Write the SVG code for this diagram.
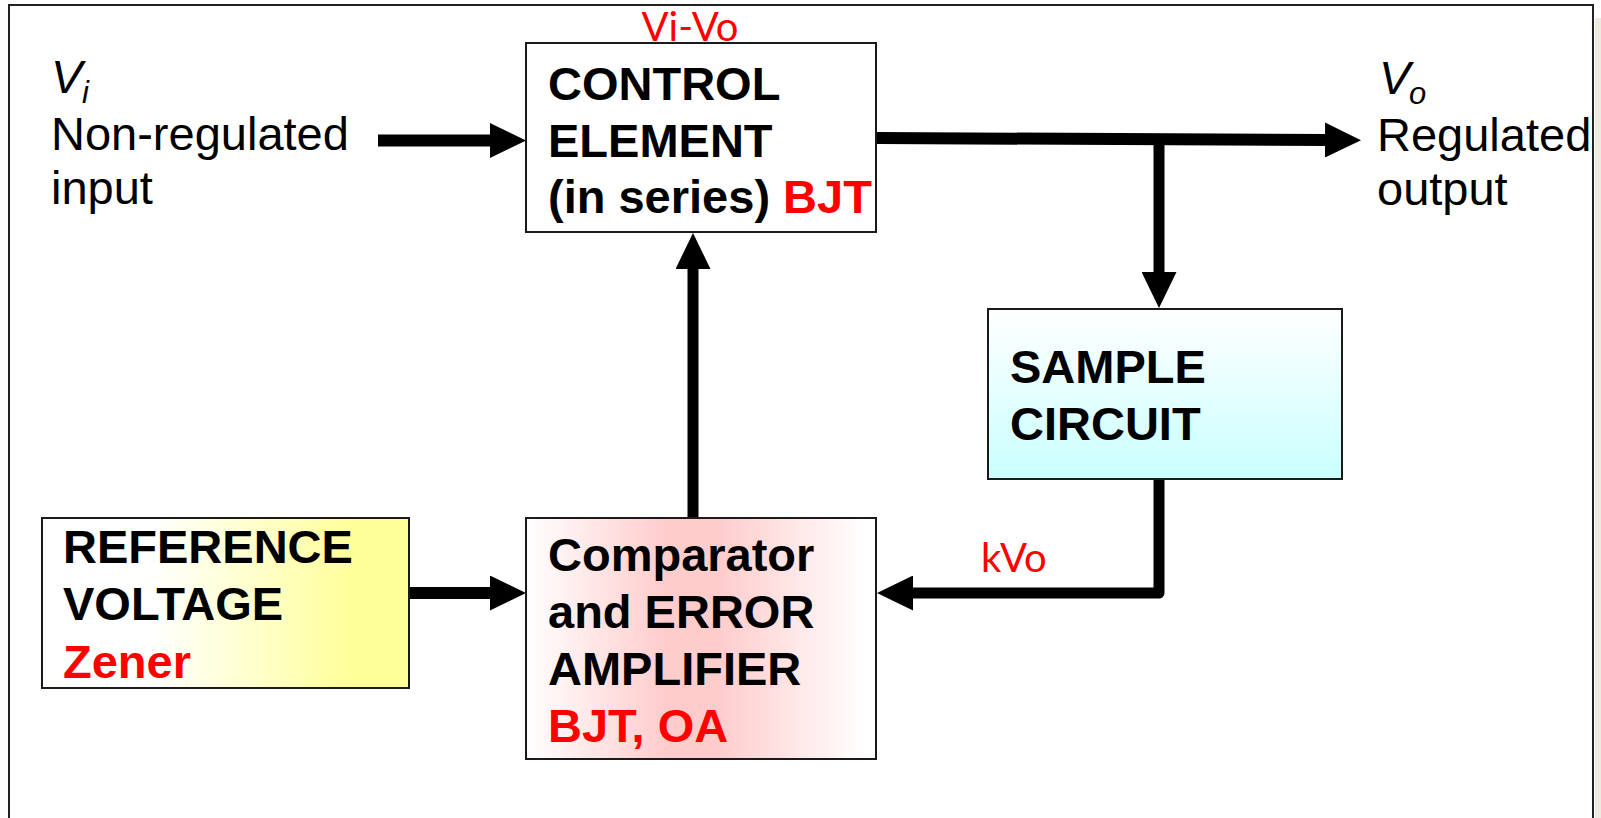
<svg xmlns="http://www.w3.org/2000/svg" width="1601" height="818" viewBox="0 0 1601 818">
<style>
.box{stroke:#1a1a1a;stroke-width:2}
.b{font-family:"Liberation Sans",Arial,sans-serif;font-weight:bold;font-size:47px;fill:#000}
.r{fill:#FF0000}
.n{font-family:"Liberation Sans",Arial,sans-serif;font-size:47px;fill:#000}
.it{font-style:italic}
.sub{font-size:31px}
.cal{font-family:Lato,"Open Sans",sans-serif;font-size:40px;fill:#FF0000}
.wire{fill:none;stroke:#000;stroke-width:12;stroke-linejoin:round}
</style>
<defs>
<marker id="ah" markerUnits="userSpaceOnUse" viewBox="0 0 36 35" refX="1" refY="17.5" markerWidth="36" markerHeight="35" orient="auto">
<path d="M0,0 L36,17.5 L0,35 Z" fill="#000"/>
</marker>
<linearGradient id="gy" x1="0" y1="0" x2="1" y2="0">
<stop offset="0" stop-color="#FFFFFF"/>
<stop offset="0.3" stop-color="#FFFFFF"/>
<stop offset="0.85" stop-color="#FFFF99"/>
<stop offset="1" stop-color="#FFFF99"/>
</linearGradient>
<linearGradient id="gp" x1="0" y1="0" x2="1" y2="0">
<stop offset="0" stop-color="#FFFFFF"/>
<stop offset="0.4" stop-color="#FFCCCC"/>
<stop offset="0.55" stop-color="#FFCCCC"/>
<stop offset="0.97" stop-color="#FFFFFF"/>
</linearGradient>
<linearGradient id="gc" x1="0" y1="0" x2="0" y2="1">
<stop offset="0" stop-color="#FFFFFF"/>
<stop offset="0.95" stop-color="#CCFFFF"/>
</linearGradient>
</defs>
<rect x="0" y="0" width="1601" height="818" fill="#FFFFFF"/>
<rect x="1595" y="18" width="6" height="800" fill="#EDEBE0"/>
<rect x="9" y="5" width="1584" height="900" fill="none" stroke="#222" stroke-width="2"/>

<g id="connectors">
<path class="wire" d="M378,140.5 H491" marker-end="url(#ah)"/>
<path class="wire" d="M877,138 L1326,140" marker-end="url(#ah)"/>
<path class="wire" d="M1159,139 V273" marker-end="url(#ah)" style="stroke-width:11"/>
<path class="wire" d="M1159,479 V593 H912" marker-end="url(#ah)" style="stroke-width:11"/>
<path class="wire" d="M409,593 H491" marker-end="url(#ah)"/>
<path class="wire" d="M693,518 V268" marker-end="url(#ah)" style="stroke-width:11"/>
<text class="cal" x="981" y="572">kVo</text>
</g>

<g id="input-label">
<text class="n it" x="51" y="93">V</text>
<text class="n it sub" x="82" y="103">i</text>
<text class="n" x="51" y="150">Non-regulated</text>
<text class="n" x="51" y="204">input</text>
</g>

<g id="output-label">
<text class="n it" x="1379" y="94">V</text>
<text class="n it sub" x="1409" y="104">o</text>
<text class="n" x="1377" y="151">Regulated</text>
<text class="n" x="1377" y="205">output</text>
</g>

<g id="control-element">
<rect class="box" x="526" y="43" width="350" height="189" fill="#FFFFFF"/>
<text class="cal" x="690" y="41" text-anchor="middle">Vi-Vo</text>
<text class="b" x="548" y="100">CONTROL</text>
<text class="b" x="548" y="157">ELEMENT</text>
<text class="b" x="548" y="213">(in series) <tspan class="r">BJT</tspan></text>
</g>

<g id="sample-circuit">
<rect class="box" x="988" y="309" width="354" height="170" fill="url(#gc)"/>
<text class="b" x="1010" y="383">SAMPLE</text>
<text class="b" x="1010" y="440">CIRCUIT</text>
</g>

<g id="reference-voltage">
<rect class="box" x="42" y="518" width="367" height="170" fill="url(#gy)"/>
<text class="b" x="63" y="563">REFERENCE</text>
<text class="b" x="63" y="620">VOLTAGE</text>
<text class="b r" x="63" y="678">Zener</text>
</g>

<g id="comparator">
<rect class="box" x="526" y="518" width="350" height="241" fill="url(#gp)"/>
<text class="b" x="548" y="571">Comparator</text>
<text class="b" x="548" y="628">and ERROR</text>
<text class="b" x="548" y="685">AMPLIFIER</text>
<text class="b r" x="548" y="742">BJT, OA</text>
</g>
</svg>
